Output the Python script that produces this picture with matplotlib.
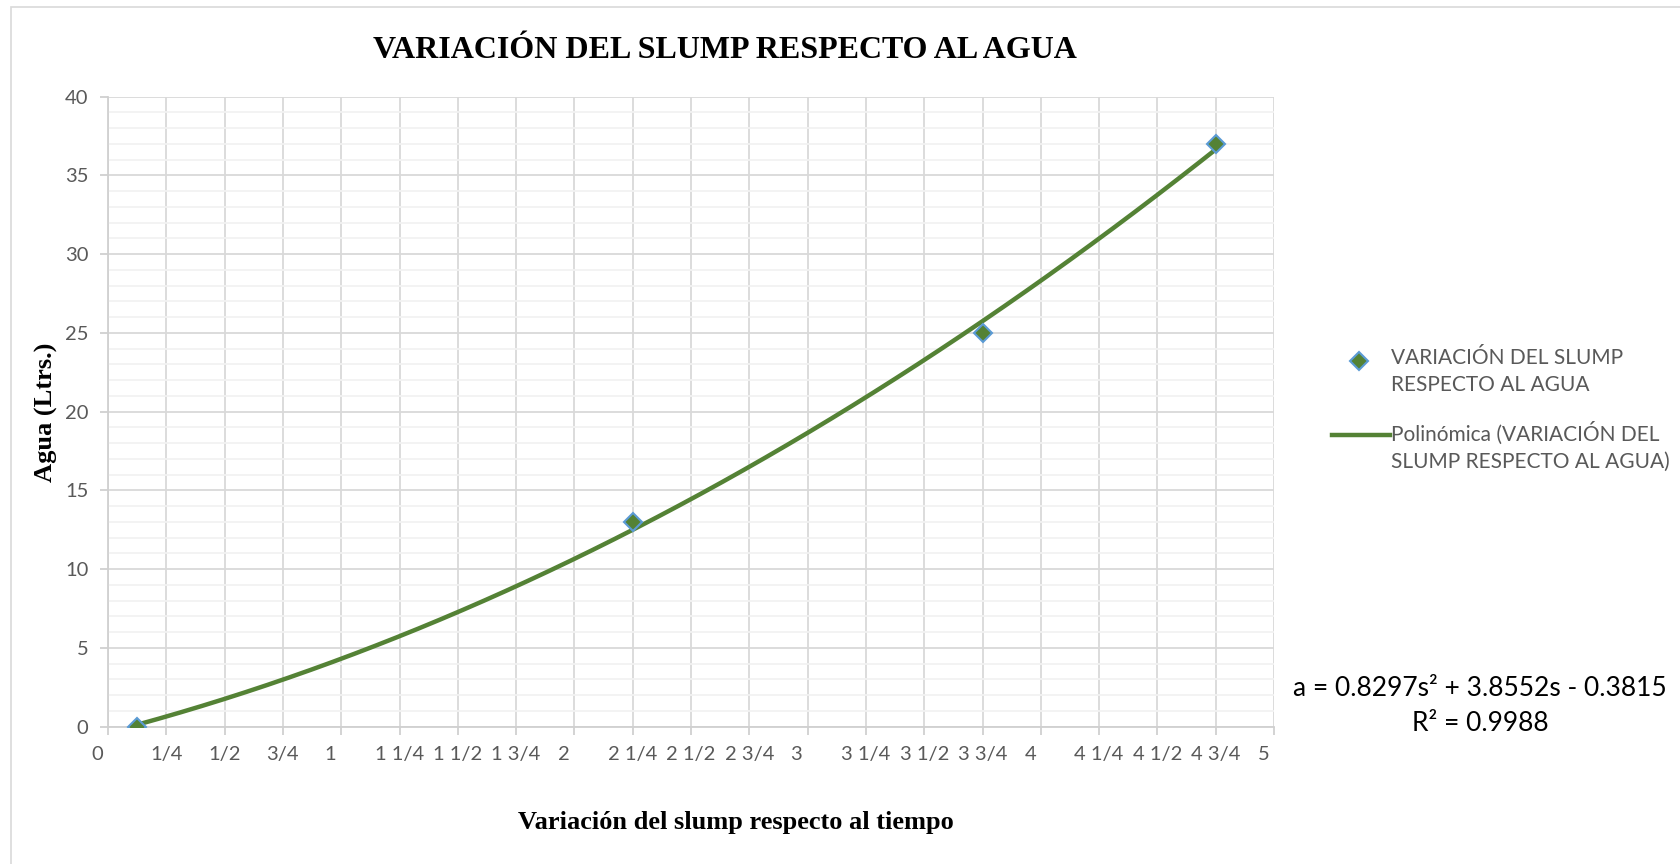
import numpy as np
import matplotlib
matplotlib.use("Agg")
import matplotlib.pyplot as plt
from matplotlib.lines import Line2D
from matplotlib.patches import Rectangle
from fractions import Fraction

# datos medidos
slump = [0.125, 2.25, 3.75, 4.75]
agua = [0, 13, 25, 37]
coef = [0.8297, 3.8552, -0.3815]
r2 = 0.9988

serie = "VARIACIÓN DEL SLUMP\nRESPECTO AL AGUA"
tendencia = "Polinómica (VARIACIÓN DEL\nSLUMP RESPECTO AL AGUA)"

verde = "#548235"
azul = "#5b9bd5"
gris_txt = "#595959"

sans = ["Lato", "DejaVu Sans"]
serif = ["Liberation Serif", "DejaVu Serif"]


def fraccion(v):
    f = Fraction(v).limit_denominator(4)
    ent = f.numerator // f.denominator
    resto = f - ent
    if resto == 0:
        return "%d    " % ent
    if ent == 0:
        return "%d/%d" % (resto.numerator, resto.denominator)
    return "%d %d/%d" % (ent, resto.numerator, resto.denominator)


fig = plt.figure(figsize=(16.8, 8.64), dpi=100)
ax = fig.add_axes([108 / 1680, 1 - 726.5 / 864, (1274 - 108) / 1680, (726.5 - 96.7) / 864])

# borde del area del grafico
fig.add_artist(Rectangle((11 / 1680, -0.1), 1.2, 1 - 7 / 864 + 0.1, transform=fig.transFigure,
                         fill=False, edgecolor="#d9d9d9", linewidth=1.2))

# curva de tendencia (solo en el rango de datos)
xs = np.linspace(min(slump), max(slump), 200)
ax.plot(xs, np.polyval(coef, xs), color=verde, linewidth=3.2, solid_capstyle="butt", zorder=3)
ax.plot(slump, agua, linestyle="none", marker="D", markersize=9.5,
        markerfacecolor=verde, markeredgecolor=azul, markeredgewidth=1.5, zorder=4)

ax.set_xlim(0, 5)
ax.set_ylim(0, 40)
xt = np.arange(0, 5.01, 0.25)
ax.set_xticks(xt)
ax.set_xticklabels([fraccion(v) for v in xt])
ax.set_yticks(np.arange(0, 41, 5))
ax.set_yticks(np.arange(0, 41, 1), minor=True)

ax.grid(which="major", color="#d9d9d9", linewidth=1.3, zorder=0)
ax.grid(which="minor", axis="y", color="#f2f2f2", linewidth=1.3, zorder=0)
ax.set_axisbelow(True)
for s in ["top", "right"]:
    ax.spines[s].set_visible(False)
for s in ["left", "bottom"]:
    ax.spines[s].set_color("#d0d0d0")
    ax.spines[s].set_linewidth(1.3)
ax.tick_params(which="major", length=6, width=1.3, color="#d0d0d0", labelcolor=gris_txt,
               labelsize=14.5, pad=8)
ax.tick_params(which="minor", length=0)
for lab in ax.get_xticklabels() + ax.get_yticklabels():
    lab.set_family(sans)

fig.text(725 / 1680, 1 - 50 / 864, "VARIACIÓN DEL SLUMP RESPECTO AL AGUA", ha="center", va="center",
         fontsize=23, fontweight="bold", family=serif)
fig.text(736 / 1680, 1 - 822 / 864, "Variación del slump respecto al tiempo", ha="center", va="center",
         fontsize=19, fontweight="bold", family=serif)
fig.text(46 / 1680, 1 - 412 / 864, "Agua (Ltrs.)", ha="center", va="center", rotation=90,
         fontsize=19, fontweight="bold", family=serif)

# leyenda
fig.add_artist(Line2D([1359 / 1680], [1 - 361 / 864], transform=fig.transFigure, linestyle="none",
                      marker="D", markersize=9.5, markerfacecolor=verde, markeredgecolor=azul,
                      markeredgewidth=1.5))
fig.add_artist(Line2D([1332 / 1680, 1390 / 1680], [1 - 435 / 864] * 2, transform=fig.transFigure,
                      color=verde, linewidth=3.2))
fig.text(1391 / 1680, 1 - 348 / 864, serie, ha="left", va="top", fontsize=15, color=gris_txt,
         family=sans, linespacing=1.45)
fig.text(1391 / 1680, 1 - 422 / 864, tendencia, ha="left", va="top", fontsize=15, color=gris_txt,
         family=sans, linespacing=1.45)

# ecuacion de la tendencia
ecuacion = "a = %.4fs² + %.4fs - %.4f\nR² = %.4f" % (coef[0], coef[1], -coef[2], r2)
fig.text(1480 / 1680, 1 - 706 / 864, ecuacion, ha="center", va="center", fontsize=19,
         color="black", family=sans, linespacing=1.5)

fig.savefig("out.png", dpi=100)
